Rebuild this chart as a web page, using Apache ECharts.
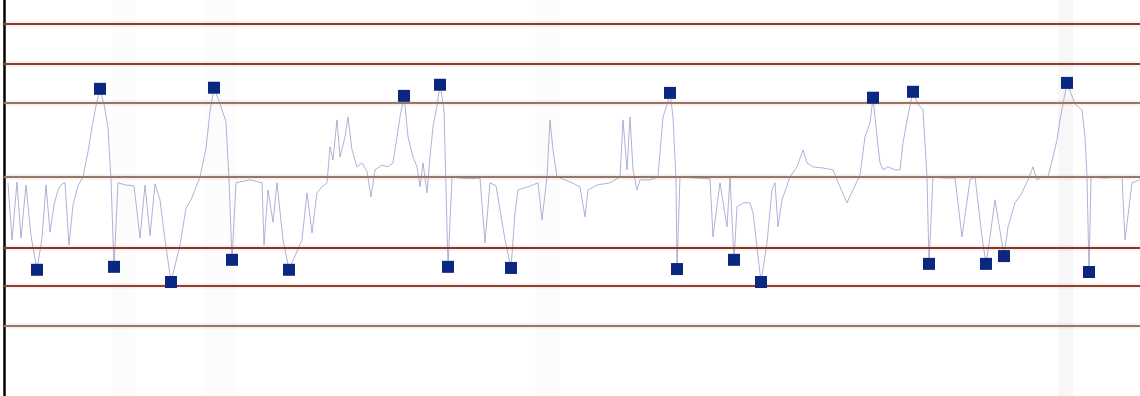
<!DOCTYPE html>
<html>
<head>
<meta charset="utf-8">
<script src="https://cdn.jsdelivr.net/npm/echarts@6/dist/echarts.min.js"></script>
<style>
  html, body { margin: 0; padding: 0; background: #ffffff; }
  #chart { width: 1140px; height: 396px; }
</style>
</head>
<body>
<div id="chart"></div>
<script>
// Sample number of each reading
const samples = [
  8, 12, 17, 21, 26, 31, 37, 42, 46, 50, 54, 58, 62, 65, 69, 73, 78, 83, 88, 92, 96, 100, 104, 108, 111, 114,
  118, 126, 134, 140, 145, 150, 155, 160, 165, 171, 180, 186, 191, 200, 206, 210, 214, 220, 226, 229, 232,
  236, 250, 262, 264, 268, 273, 277, 283, 289, 302, 307, 312, 317, 322, 327, 330, 333, 337, 340, 345, 348,
  352, 357, 362, 367, 371, 375, 382, 388, 393, 397, 400, 404, 408, 413, 417, 420, 423, 427, 430, 433, 437,
  440, 444, 448, 452, 460, 470, 480, 485, 490, 496, 505, 511, 515, 518, 528, 538, 542, 547, 550, 553, 557,
  565, 572, 580, 585, 588, 597, 610, 620, 623, 627, 630, 633, 637, 640, 650, 658, 663, 667, 670, 673, 676,
  677, 680, 695, 710, 713, 720, 727, 730, 734, 737, 743, 750, 753, 761, 767, 772, 775, 778, 782, 790, 797,
  803, 807, 813, 823, 833, 840, 847, 853, 860, 865, 870, 873, 877, 880, 883, 888, 895, 900, 903, 907, 913,
  918, 923, 927, 929, 933, 945, 955, 962, 970, 975, 982, 986, 990, 995, 1004, 1008, 1015, 1022, 1028, 1033,
  1037, 1042, 1048, 1053, 1057, 1060, 1063, 1067, 1075, 1082, 1085, 1087, 1089, 1091, 1105, 1122, 1125,
  1132, 1140
];

// Standardised reading (deviation from the centre line, in sigma units)
const readings = [
  -0.16, -1.70, -0.14, -1.65, -0.22, -1.59, -2.51, -1.65, -0.22, -1.49, -0.76, -0.35, -0.19, -0.16, -1.84,
  -0.76, -0.24, 0.00, 0.68, 1.35, 1.92, 2.38, 1.97, 1.32, -0.08, -2.43,
  -0.16, -0.22, -0.24, -1.65, -0.22, -1.59, -0.19, -0.62, -1.70, -2.84, -1.84, -0.84, -0.62, 0.00, 0.78,
  1.76, 2.41, 1.97, 1.49, -0.08, -2.24,
  -0.16, -0.08, -0.16, -1.84, -0.35, -1.22, -0.16, -1.70, -2.51, -1.70, -0.43, -1.51, -0.43, -0.27, -0.16,
  0.81, 0.46, 1.54, 0.54, 1.08, 1.62,
  0.73, 0.27, 0.38, 0.14, -0.54, 0.19, 0.32, 0.27, 0.38, 1.08, 1.62, 2.19, 1.08, 0.54, 0.27, -0.27, 0.38,
  -0.43, 0.54, 1.35, 1.92,
  2.49, 1.81, -2.43, 0.00, -0.03, -0.05, -0.03, -1.78, -0.16, -0.24, -1.70, -2.46, -0.97, -0.35, -0.27,
  -0.16, -1.16, 0.00, 1.54, 0.73, 0.00,
  -0.08, -0.16, -0.27, -1.08, -0.35, -0.22, -0.16, 0.00, 1.54, 0.19, 1.62, 0.19, -0.35, -0.08, -0.08, 0.00,
  1.62, 1.95, 2.27, 1.62, -0.08,
  -2.49, 0.00, -0.03, -0.05, -1.62, -0.16, -1.35, 0.00, -2.24, -0.81, -0.70, -0.70, -0.97, -2.84, -1.78,
  -0.35, -0.16, -1.35, -0.62, 0.00, 0.27,
  0.73, 0.38, 0.27, 0.24, 0.19, -0.27, -0.70, -0.35, 0.05, 1.08, 1.46, 2.14, 1.08, 0.38, 0.19, 0.27, 0.19,
  0.19, 0.92, 1.54, 2.30,
  1.97, 1.81, 0.00, -2.35, 0.00, -0.03, -0.03, -1.62, -0.08, 0.00, -1.62, -2.35, -1.62, -0.62, -2.14,
  -1.35, -0.70, -0.43, -0.08, 0.27,
  -0.08, 0.00, 0.00, 0.54, 1.00, 1.54, 1.97, 2.54, 1.97, 1.81, 1.08, 0.00, -2.57, 0.00, -0.03, 0.00, -1.70,
  -0.16, -0.08
];

// Horizontal reference lines: +4, +3, +2 limits, centre, -2, -3, -4 limits
const limitLevels = [4.14, 3.07, 2.01, 0, -1.92, -2.95, -4.03];
const limitColors = ['#84402f', '#8a3f32', '#94766a', '#94786c', '#7f3a2d', '#8a4335', '#927a70'];
const upperLimit = limitLevels[2];
const lowerLimit = limitLevels[4];

// Faint shaded sample ranges
const shadedRanges = [[112, 135], [205, 237], [535, 560], [1058, 1073]];
const shadedOpacity = [0.01, 0.012, 0.01, 0.03];

const linePoints = samples.map((s, i) => [s, readings[i]]);
const outOfControl = linePoints.filter(p => p[1] > upperLimit || p[1] < lowerLimit);

const chart = echarts.init(document.getElementById('chart'), null, { renderer: 'canvas' });

chart.setOption({
  animation: false,
  backgroundColor: '#ffffff',
  grid: { left: 4, right: 0, top: 0, bottom: 0, containLabel: false },
  xAxis: {
    type: 'value',
    min: 4,
    max: 1140,
    axisLine: { show: false },
    axisTick: { show: false },
    axisLabel: { show: false },
    splitLine: { show: false }
  },
  yAxis: {
    type: 'value',
    min: -5.92,
    max: 4.78,
    axisLine: { show: true, onZero: false, lineStyle: { color: '#000000', width: 2.5 } },
    axisTick: { show: false },
    axisLabel: { show: false },
    splitLine: { show: false }
  },
  series: [
    {
      name: 'limits',
      type: 'line',
      data: [],
      silent: true,
      markArea: {
        silent: true,
        data: shadedRanges.map((r, i) => [
          { xAxis: r[0], itemStyle: { color: 'rgba(0,0,0,' + shadedOpacity[i] + ')' } },
          { xAxis: r[1] }
        ])
      },
      markLine: {
        silent: true,
        symbol: ['none', 'none'],
        label: { show: false },
        data: limitLevels.map((v, i) => ({
          yAxis: v,
          lineStyle: {
            color: limitColors[i],
            width: 2,
            type: 'solid',
            opacity: 1,
            shadowColor: 'rgba(220,120,100,0.45)',
            shadowBlur: 3
          }
        }))
      }
    },
    {
      name: 'reading',
      type: 'line',
      data: linePoints,
      showSymbol: false,
      symbol: 'none',
      lineStyle: { color: '#9898cc', width: 0.9, opacity: 0.85 },
      z: 3
    },
    {
      name: 'out of control',
      type: 'scatter',
      data: outOfControl,
      symbol: 'rect',
      symbolSize: 12,
      itemStyle: { color: '#0c2780', opacity: 1 },
      z: 5
    }
  ]
});
</script>
</body>
</html>
